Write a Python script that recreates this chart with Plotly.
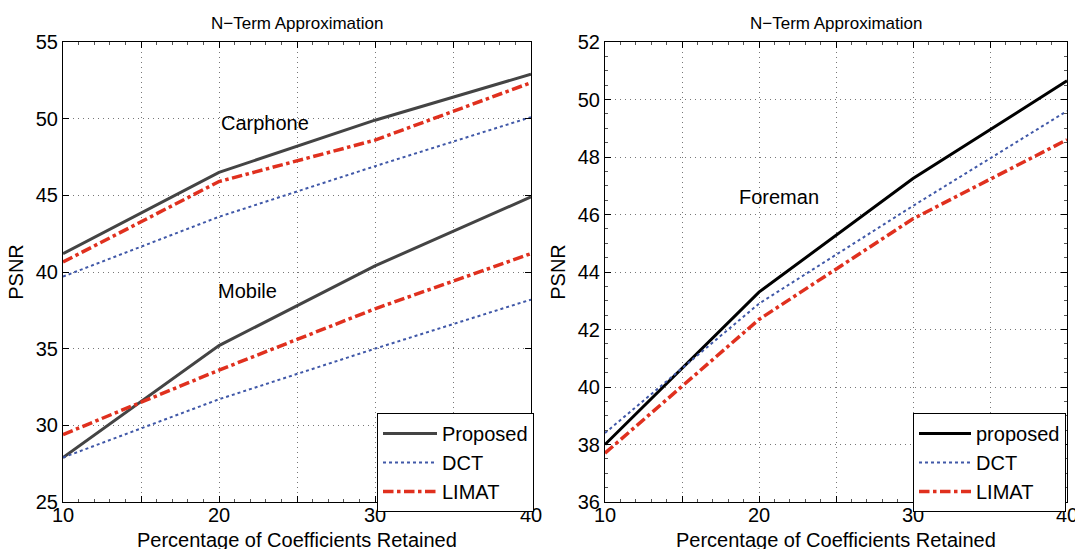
import plotly.graph_objects as go

x_pct = [10, 20, 30, 40]

# Left panel (Carphone / Mobile)
carphone_proposed = [41.2, 46.5, 49.9, 52.9]
carphone_dct = [39.7, 43.6, 46.9, 50.1]
carphone_limat = [40.65, 45.9, 48.6, 52.35]
mobile_proposed = [27.9, 35.2, 40.4, 44.9]
mobile_dct = [27.9, 31.7, 35.0, 38.2]
mobile_limat = [29.4, 33.6, 37.6, 41.2]

# Right panel (Foreman)
foreman_proposed = [38.0, 43.3, 47.25, 50.65]
foreman_dct = [38.4, 42.9, 46.3, 49.6]
foreman_limat = [37.7, 42.35, 45.85, 48.6]

x_tickvals = [10, 15, 20, 25, 30, 35, 40]
x_ticktext = ["10", "", "20", "", "30", "", "40"]
left_yticks = [25, 30, 35, 40, 45, 50, 55]
right_yticks = [36, 38, 40, 42, 44, 46, 48, 50, 52]

FONT = "Liberation Sans, Arial, Helvetica, sans-serif"
C_PROP_L = "#444444"
C_PROP_R = "#000000"
C_DCT = "#4058a8"
C_LIMAT = "#e0301e"

fig = go.Figure()

def add(x, y, name, color, dash, width, xa, ya, legend, show):
    fig.add_trace(go.Scatter(
        x=x, y=y, name=name, mode="lines",
        line=dict(color=color, dash=dash, width=width),
        xaxis=xa, yaxis=ya, legend=legend, showlegend=show))

add(x_pct, carphone_proposed, "Proposed", C_PROP_L, "solid", 3, "x", "y", "legend", True)
add(x_pct, carphone_dct, "DCT", C_DCT, "dot", 2, "x", "y", "legend", True)
add(x_pct, carphone_limat, "LIMAT", C_LIMAT, "dashdot", 3.5, "x", "y", "legend", True)
add(x_pct, mobile_proposed, "Proposed", C_PROP_L, "solid", 3, "x", "y", "legend", False)
add(x_pct, mobile_dct, "DCT", C_DCT, "dot", 2, "x", "y", "legend", False)
add(x_pct, mobile_limat, "LIMAT", C_LIMAT, "dashdot", 3.5, "x", "y", "legend", False)

add(x_pct, foreman_proposed, "proposed", C_PROP_R, "solid", 3, "x2", "y2", "legend2", True)
add(x_pct, foreman_dct, "DCT", C_DCT, "dot", 2, "x2", "y2", "legend2", True)
add(x_pct, foreman_limat, "LIMAT", C_LIMAT, "dashdot", 3.5, "x2", "y2", "legend2", True)

def axis_common(minor_dtick=None, minor_tick0=0):
    d = dict(
        showline=True, mirror="ticks", linecolor="black", linewidth=1,
        ticks="inside", ticklen=6, tickcolor="black",
        showgrid=True, gridcolor="#777777", griddash="1px,4px", gridwidth=1,
        zeroline=False, tickfont=dict(family=FONT, size=20, color="black"),
        automargin=False, ticklabeloverflow="allow",
    )
    if minor_dtick is not None:
        d["minor"] = dict(ticks="inside", ticklen=3, tickcolor="#555555",
                          tickmode="linear", tick0=minor_tick0, dtick=minor_dtick,
                          showgrid=False)
    return d

W, H = 1075, 549
ml, mr, mt, mb = 63, 8, 42, 47
pw = W - ml - mr
ph = H - mt - mb
def px(xp):
    return (xp - ml) / pw
def py(yp):
    return 1 - (yp - mt) / ph

title_font = dict(family=FONT, size=20, color="black")
XLABEL = "Percentage of Coefficients Retained"

fig.update_layout(
    width=W, height=H,
    margin=dict(l=ml, r=mr, t=mt, b=mb),
    paper_bgcolor="white", plot_bgcolor="white",
    font=dict(family=FONT, size=20, color="black"),
    xaxis=dict(domain=[0, px(531)], range=[10, 40], tickvals=x_tickvals, ticktext=x_ticktext,
               anchor="y", ticklabelstandoff=-5, **axis_common(1, 10)),
    yaxis=dict(domain=[0, 1], range=[25, 55], tickvals=left_yticks, anchor="x",
               title=dict(text="PSNR", standoff=6, font=title_font), **axis_common()),
    xaxis2=dict(domain=[px(605), 1], range=[10, 40], tickvals=x_tickvals, ticktext=x_ticktext,
                anchor="y2", ticklabelstandoff=-5, **axis_common(1, 10)),
    yaxis2=dict(domain=[0, 1], range=[36, 52], tickvals=right_yticks, anchor="x2",
                title=dict(text="PSNR", standoff=6, font=title_font), **axis_common(0.5, 36)),
    legend=dict(x=px(377), y=py(413), xanchor="left", yanchor="top",
                bgcolor="white", bordercolor="black", borderwidth=1,
                font=dict(family=FONT, size=20), tracegroupgap=0, itemwidth=54),
    legend2=dict(x=px(913), y=py(413), xanchor="left", yanchor="top",
                 bgcolor="white", bordercolor="black", borderwidth=1,
                 font=dict(family=FONT, size=20), tracegroupgap=0, itemwidth=52),
    annotations=[
        dict(text="N\u2212Term Approximation", x=(0 + px(531)) / 2, y=1.015, xref="paper", yref="paper",
             xanchor="center", yanchor="bottom", showarrow=False, font=dict(size=17)),
        dict(text="N\u2212Term Approximation", x=(px(605) + 1) / 2, y=1.015, xref="paper", yref="paper",
             xanchor="center", yanchor="bottom", showarrow=False, font=dict(size=17)),
        dict(text=XLABEL, x=(0 + px(531)) / 2, y=py(540), xref="paper", yref="paper",
             xanchor="center", yanchor="middle", showarrow=False, font=title_font),
        dict(text=XLABEL, x=(px(605) + 1) / 2, y=py(540), xref="paper", yref="paper",
             xanchor="center", yanchor="middle", showarrow=False, font=title_font),
        dict(text="Carphone", x=22.95, y=49.7, xref="x", yref="y", showarrow=False,
             xanchor="center", font=dict(size=20)),
        dict(text="Mobile", x=21.8, y=38.75, xref="x", yref="y", showarrow=False,
             xanchor="center", font=dict(size=20)),
        dict(text="Foreman", x=21.3, y=46.6, xref="x2", yref="y2", showarrow=False,
             xanchor="center", font=dict(size=20)),
    ],
)

fig.write_html("out.html")
